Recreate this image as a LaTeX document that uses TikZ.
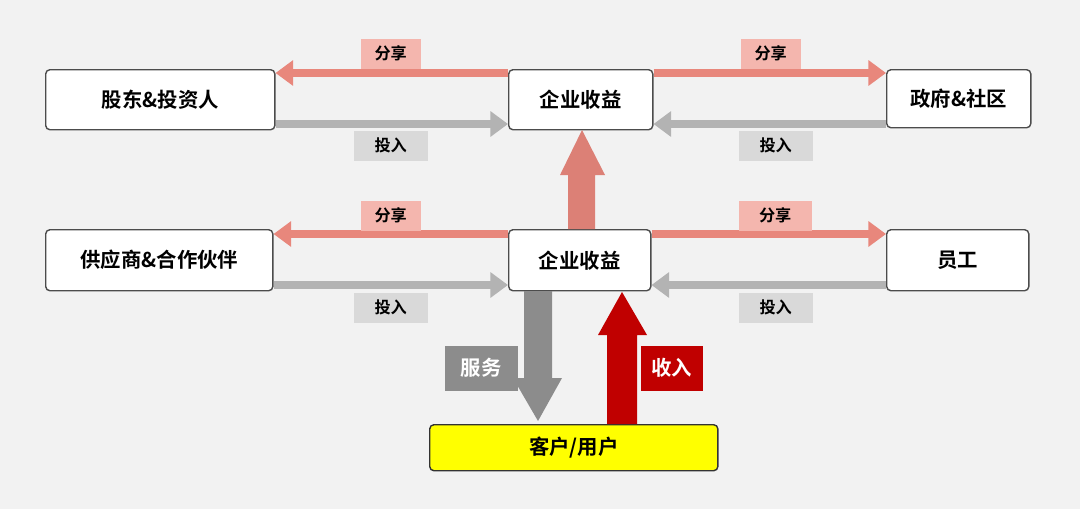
\documentclass[tikz,border=0pt]{standalone}
\usepackage{fontspec}
\usetikzlibrary{arrows.meta}
\setmainfont{Noto Sans CJK SC}[BoldFont={* Bold}]
\definecolor{bg}{HTML}{F2F2F2}
\definecolor{share}{HTML}{E8877C}
\definecolor{sharel}{HTML}{F4B6AE}
\definecolor{inv}{HTML}{B3B3B3}
\definecolor{invl}{HTML}{D9D9D9}
\definecolor{srv}{HTML}{8C8C8C}
\definecolor{inc}{HTML}{C00000}
\definecolor{yel}{HTML}{FFFF00}
\begin{document}
\begin{tikzpicture}[x=0.01cm,y=-0.01cm,
  box/.style={draw=black!70,fill=white,rounded corners=1.2pt,line width=0.4pt,font=\fontsize{5.8}{6}\selectfont\bfseries,inner sep=0},
  lab/.style={font=\fontsize{4.6}{5}\selectfont\bfseries,inner sep=0},
  sh/.style={share,line width=2.3pt,-{Triangle[length=5pt,width=7pt]}},
  iv/.style={inv,line width=2pt,-{Triangle[length=5pt,width=7pt]}}]
\fill[bg] (0,0) rectangle (1080,509);
\useasboundingbox (0,0) rectangle (1080,509);
\node[box,anchor=north west,minimum width=2.29cm,minimum height=0.6cm] (sh) at (45,69) {股东\&投资人};
\node[box,anchor=north west,minimum width=1.44cm,minimum height=0.6cm] (t) at (508,69) {企业收益};
\node[box,anchor=north west,minimum width=1.44cm,minimum height=0.58cm] (gov) at (886,69) {政府\&社区};
\node[box,anchor=north west,minimum width=2.27cm,minimum height=0.61cm] (sup) at (45,229) {供应商\&合作伙伴};
\node[box,anchor=north west,minimum width=1.42cm,minimum height=0.61cm] (m) at (508,229) {企业收益};
\node[box,anchor=north west,minimum width=1.42cm,minimum height=0.61cm] (emp) at (886,229) {员工};
\node[box,anchor=north west,minimum width=2.88cm,minimum height=0.46cm,fill=yel,draw=black!80] (cu) at (429,424) {客户/用户};
\draw[sh] (t.west|-0,73) -- (sh.east|-0,73);
\draw[sh] (t.east|-0,73) -- (gov.west|-0,73);
\draw[iv] (sh.east|-0,124) -- (t.west|-0,124);
\draw[iv] (gov.west|-0,124) -- (t.east|-0,124);
\draw[sh] (m.west|-0,234) -- (sup.east|-0,234);
\draw[sh] (m.east|-0,234) -- (emp.west|-0,234);
\draw[iv] (sup.east|-0,285) -- (m.west|-0,285);
\draw[iv] (emp.west|-0,285) -- (m.east|-0,285);
\tikzset{sl/.style={lab,fill=sharel,minimum width=0.6cm,minimum height=0.3cm,anchor=north west},
 il/.style={lab,fill=invl,minimum width=0.74cm,minimum height=0.3cm,anchor=north west}}
\node[sl] (l1) at (360,38) {分享};
\node[sl] (l2) at (740,38) {分享};
\node[il] (l3) at (353,130) {投入};
\node[il] (l4) at (738,130) {投入};
\node[sl] (l5) at (360,200) {分享};
\node[sl,minimum width=0.73cm] (l6) at (738,200) {分享};
\node[il] (l7) at (353,292) {投入};
\node[il] (l8) at (738,292) {投入};
\fill[share!95!black] (568,229) -- (568,175) -- (560,175) -- (582,130) -- (605,175) -- (595,175) -- (595,229) -- cycle;
\fill[srv] (524,291) -- (552,291) -- (552,378) -- (562,378) -- (538,421) -- (513,378) -- (524,378) -- cycle;
\fill[inc] (607,424) -- (637,424) -- (637,335) -- (647,335) -- (622,292) -- (598,335) -- (607,335) -- cycle;
\node[lab,fill=srv,text=white,font=\fontsize{5.8}{6}\selectfont\bfseries,minimum width=0.73cm,minimum height=0.45cm,anchor=north west] (fw) at (444,345) {服务};
\node[lab,fill=inc,text=white,font=\fontsize{5.8}{6}\selectfont\bfseries,minimum width=0.62cm,minimum height=0.45cm,anchor=north west] (sr) at (640,345) {收入};
\end{tikzpicture}
\end{document}
